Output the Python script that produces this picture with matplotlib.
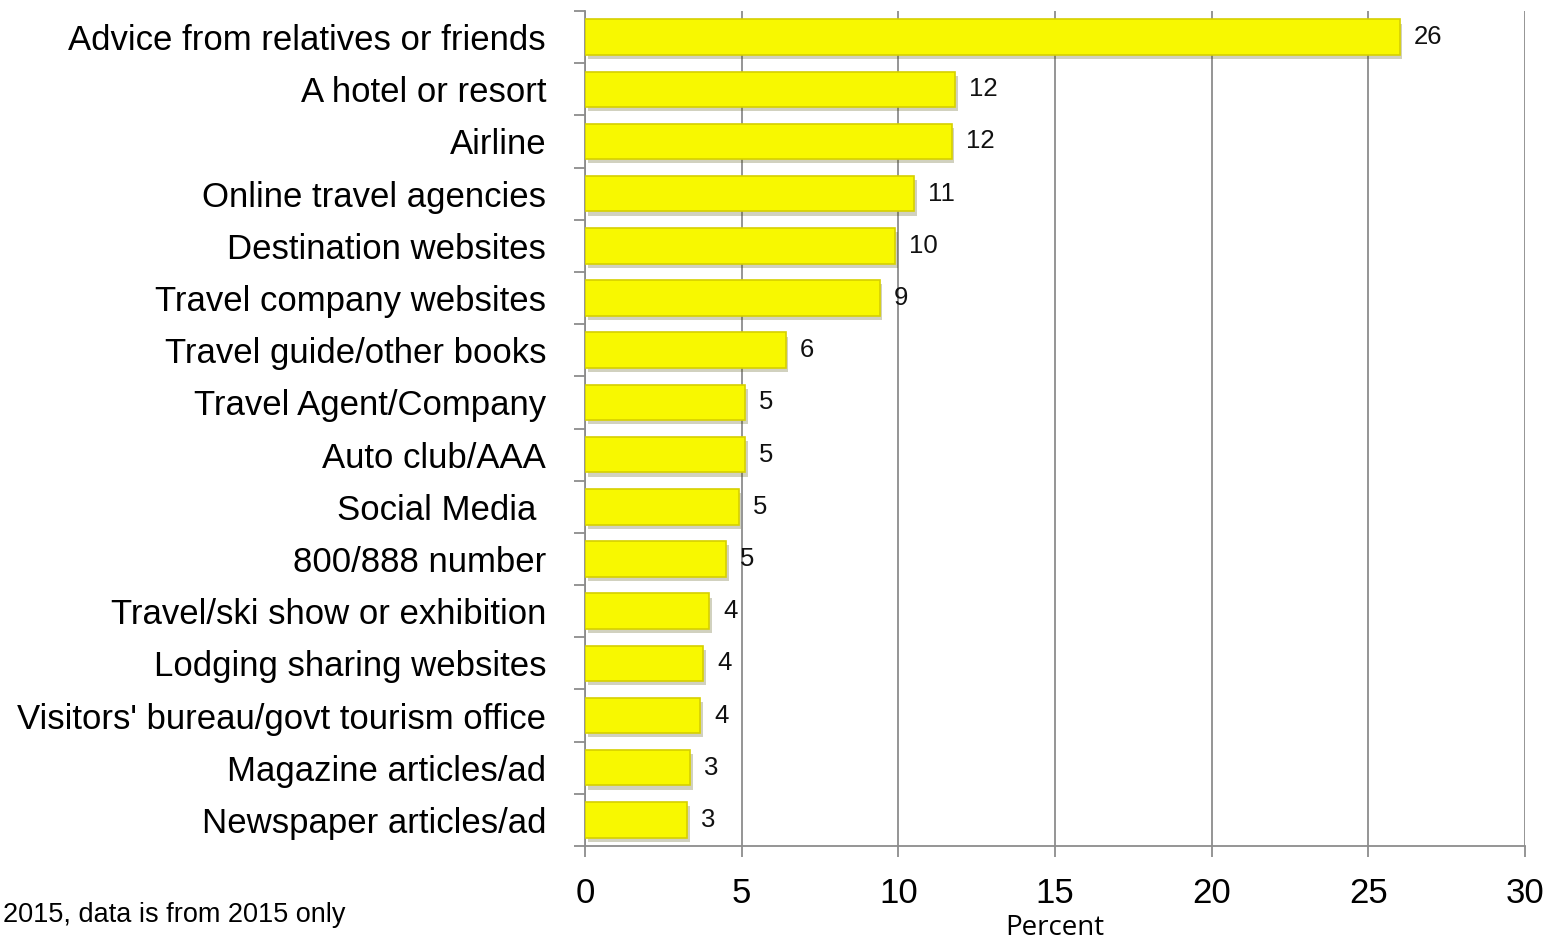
import matplotlib
matplotlib.use("Agg")
import matplotlib.pyplot as plt
import matplotlib.patheffects as pe
import numpy as np

categories = [
    "Advice from relatives or friends", "A hotel or resort", "Airline",
    "Online travel agencies", "Destination websites", "Travel company websites",
    "Travel guide/other books", "Travel Agent/Company", "Auto club/AAA",
    "Social Media ", "800/888 number", "Travel/ski show or exhibition",
    "Lodging sharing websites", "Visitors' bureau/govt tourism office",
    "Magazine articles/ad", "Newspaper articles/ad",
]
values = [26.0, 11.8, 11.7, 10.5, 9.9, 9.4, 6.4, 5.1, 5.1, 4.9, 4.5, 3.96, 3.77, 3.67, 3.35, 3.26]
value_labels = ["26", "12", "12", "11", "10", "9", "6", "5", "5", "5", "5", "4", "4", "4", "3", "3"]
x_ticks = [0, 5, 10, 15, 20, 25, 30]

narrow = ["Liberation Sans Narrow", "Liberation Sans", "DejaVu Sans"]
arial = ["Liberation Sans", "DejaVu Sans"]

fig = plt.figure(figsize=(15.52, 9.41), dpi=100)
ax = fig.add_axes([585 / 1552, 1 - 846 / 941, 940 / 1552, (846 - 11) / 941])

y = np.arange(len(categories))
bars = ax.barh(y, values, height=0.68, color="#F8F800", edgecolor="#D6D000",
               linewidth=1.2, zorder=3)
for b in bars:
    b.set_path_effects([pe.SimplePatchShadow(offset=(2, -3), alpha=0.25), pe.Normal()])

for yi, v, lab in zip(y, values, value_labels):
    ax.text(v + 0.45, yi, lab, va="center", ha="left", fontsize=18.5,
            family=arial, color="#111111", zorder=4)

ax.set_ylim(len(categories) - 0.5, -0.5)
ax.set_xlim(0, 30)
ax.set_xticks(x_ticks)
ax.set_xticklabels([str(t) for t in x_ticks], family=arial, fontsize=25)
ax.set_yticks(y)
ax.set_yticklabels(categories, family=narrow, fontsize=25)
ax.set_yticks(np.arange(-0.5, len(categories)), minor=True)
ax.tick_params(axis="y", which="major", length=0, pad=28)
ax.tick_params(axis="y", which="minor", length=8, color="#8c8c8c", width=1.3)
ax.tick_params(axis="x", length=8, color="#8c8c8c", width=1.3, pad=14)

ax.grid(axis="x", color="#8c8c8c", linewidth=1.3, zorder=0)
for s in ["top", "right"]:
    ax.spines[s].set_visible(False)
for s in ["left", "bottom"]:
    ax.spines[s].set_color("#8c8c8c")
    ax.spines[s].set_linewidth(1.3)

ax.set_xlabel("Percent", family=["Open Sans", "DejaVu Sans"], fontsize=20, labelpad=3)

fig.text(0.002, 1 - 915 / 941, "2015, data is from 2015 only", family=arial,
         fontsize=19.5, va="center", ha="left")

fig.savefig("out.png", dpi=100)
